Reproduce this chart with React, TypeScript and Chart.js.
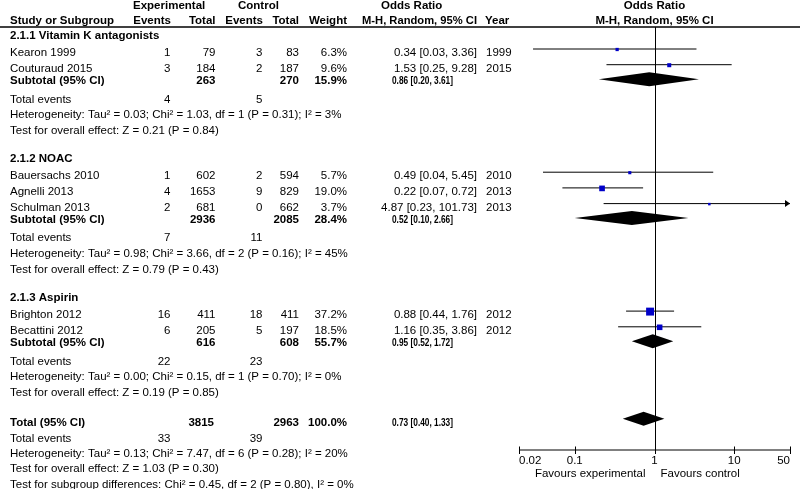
import React, { useEffect, useRef } from "react";
import { Chart, registerables } from "chart.js";
Chart.register(...registerables);

// ---------- data ----------
const studies = ["Kearon 1999", "Couturaud 2015", "Bauersachs 2010", "Agnelli 2013", "Schulman 2013", "Brighton 2012", "Becattini 2012"];
const studyGroup = [0, 0, 1, 1, 1, 2, 2];
const expEvents = [1, 3, 1, 4, 2, 16, 6];
const expTotal = [79, 184, 602, 1653, 681, 411, 205];
const ctrlEvents = [3, 2, 2, 9, 0, 18, 5];
const ctrlTotal = [83, 187, 594, 829, 662, 411, 197];
const weights = [6.3, 9.6, 5.7, 19.0, 3.7, 37.2, 18.5];
const oddsRatio = [0.34, 1.53, 0.49, 0.22, 4.87, 0.88, 1.16];
const ciLower = [0.03, 0.25, 0.04, 0.07, 0.23, 0.44, 0.35];
const ciUpper = [3.36, 9.28, 5.45, 0.72, 101.73, 1.76, 3.86];
const years = [1999, 2015, 2010, 2013, 2013, 2012, 2012];

const groupNames = ["2.1.1 Vitamin K antagonists", "2.1.2 NOAC", "2.1.3 Aspirin"];
const subExpTotal = [263, 2936, 616];
const subCtrlTotal = [270, 2085, 608];
const subWeight = [15.9, 28.4, 55.7];
const subOR = [0.86, 0.52, 0.95];
const subLower = [0.2, 0.1, 0.52];
const subUpper = [3.61, 2.66, 1.72];
const subExpEvents = [4, 7, 22];
const subCtrlEvents = [5, 11, 23];
const subHet = [
  "Heterogeneity: Tau² = 0.03; Chi² = 1.03, df = 1 (P = 0.31); I² = 3%",
  "Heterogeneity: Tau² = 0.98; Chi² = 3.66, df = 2 (P = 0.16); I² = 45%",
  "Heterogeneity: Tau² = 0.00; Chi² = 0.15, df = 1 (P = 0.70); I² = 0%",
];
const subTest = [
  "Test for overall effect: Z = 0.21 (P = 0.84)",
  "Test for overall effect: Z = 0.79 (P = 0.43)",
  "Test for overall effect: Z = 0.19 (P = 0.85)",
];

const totalExpTotal = 3815;
const totalCtrlTotal = 2963;
const totalWeight = 100.0;
const totalOR = 0.73;
const totalLower = 0.4;
const totalUpper = 1.33;
const totalExpEvents = 33;
const totalCtrlEvents = 39;
const totalHet = "Heterogeneity: Tau² = 0.13; Chi² = 7.47, df = 6 (P = 0.28); I² = 20%";
const totalTest = "Test for overall effect: Z = 1.03 (P = 0.30)";
const subgroupTest = "Test for subgroup differences: Chi² = 0.45, df = 2 (P = 0.80), I² = 0%";

const axisTicks = [0.02, 0.1, 1, 10, 50];
const axisTickLabels = ["0.02", "0.1", "1", "10", "50"];
const axisMin = 0.02;
const axisMax = 50;
const favoursLeft = "Favours experimental";
const favoursRight = "Favours control";

// ---------- layout (row baselines) ----------
type Row = { kind: string; y: number; i?: number; g?: number; text?: string };
function buildRows(): Row[] {
  const rows: Row[] = [];
  let y = 39;
  for (let g = 0; g < groupNames.length; g++) {
    if (g > 0) y += 28.5;
    rows.push({ kind: "group", y, g });
    let first = true;
    studies.forEach((_, i) => {
      if (studyGroup[i] !== g) return;
      y += first ? 17 : 15.7;
      first = false;
      rows.push({ kind: "study", y, i });
    });
    y += 12.5;
    rows.push({ kind: "sub", y, g });
    y += 18.3;
    rows.push({ kind: "subEvents", y, g });
    y += 15.6;
    rows.push({ kind: "text", y, text: subHet[g] });
    y += 15.6;
    rows.push({ kind: "text", y, text: subTest[g] });
  }
  y += 30.5;
  rows.push({ kind: "total", y });
  y += 15.6;
  rows.push({ kind: "totalEvents", y });
  y += 15.2;
  rows.push({ kind: "text", y, text: totalHet });
  y += 15.2;
  rows.push({ kind: "text", y, text: totalTest });
  y += 15.2;
  rows.push({ kind: "text", y, text: subgroupTest });
  return rows;
}

const FONT = "'Liberation Sans', Arial, Helvetica, sans-serif";
const REG = `11.5px ${FONT}`;
const BOLD = `bold 11.5px ${FONT}`;
const COL = { name: 10, expEv: 170.5, expTot: 215.5, ctrlEv: 262.5, ctrlTot: 299, weight: 347, orRight: 477, orLeft: 392, year: 486 };
const fmtOR = (o: number, l: number, h: number) => `${o.toFixed(2)} [${l.toFixed(2)}, ${h.toFixed(2)}]`;

export default function App() {
  const ref = useRef<HTMLCanvasElement | null>(null);
  useEffect(() => {
    document.body.style.margin = "0";
    const rows = buildRows();
    const studyRow = (i: number) => rows.find((r) => r.kind === "study" && r.i === i)!.y;
    const LINE_OFF = -7;

    const ciDatasets = studies.map((s, i) => ({
      type: "line" as const,
      label: s,
      data: [
        { x: ciLower[i], y: studyRow(i) + LINE_OFF },
        { x: Math.min(ciUpper[i], axisMax), y: studyRow(i) + LINE_OFF },
      ],
      borderColor: "#000",
      borderWidth: 1,
      pointRadius: 0,
      order: 2,
    }));
    const squares = {
      type: "scatter" as const,
      label: "OR",
      data: studies.map((_, i) => ({ x: oddsRatio[i], y: studyRow(i) + LINE_OFF + 0.5 })),
      pointStyle: "rect",
      pointRadius: weights.map((w) => (Math.sqrt(w) * 1.3) / Math.SQRT2),
      backgroundColor: "#0000c8",
      borderWidth: 0,
      pointBorderWidth: 0,
      order: 0,
    };

    const drawPlugin = {
      id: "forest",
      beforeDatasetsDraw(chart: any) {
        const ctx = chart.ctx;
        const xs = chart.scales.x;
        const ys = chart.scales.y;
        ctx.save();
        ctx.strokeStyle = "#000";
        ctx.lineWidth = 1.5;
        ctx.beginPath();
        ctx.moveTo(0, ys.getPixelForValue(27));
        ctx.lineTo(800, ys.getPixelForValue(27));
        ctx.stroke();
        const x1 = Math.round(xs.getPixelForValue(1)) + 0.5;
        ctx.lineWidth = 1;
        ctx.beginPath();
        ctx.moveTo(x1, ys.getPixelForValue(27));
        ctx.lineTo(x1, ys.getPixelForValue(450));
        ctx.stroke();
        ctx.restore();
      },
      afterDatasetsDraw(chart: any) {
        const ctx = chart.ctx;
        const xs = chart.scales.x;
        const ys = chart.scales.y;
        ctx.save();
        const diamond = (o: number, l: number, h: number, yc: number) => {
          const y = ys.getPixelForValue(yc);
          ctx.fillStyle = "#000";
          ctx.beginPath();
          ctx.moveTo(xs.getPixelForValue(l), y);
          ctx.lineTo(xs.getPixelForValue(o), y - 7);
          ctx.lineTo(xs.getPixelForValue(h), y);
          ctx.lineTo(xs.getPixelForValue(o), y + 7);
          ctx.closePath();
          ctx.fill();
        };
        rows.forEach((r) => {
          if (r.kind === "sub") diamond(subOR[r.g!], subLower[r.g!], subUpper[r.g!], r.y - 5);
          if (r.kind === "total") diamond(totalOR, totalLower, totalUpper, r.y - 7.5);
        });
        studies.forEach((_, i) => {
          if (ciUpper[i] > axisMax) {
            const xe = xs.getPixelForValue(axisMax);
            const y = ys.getPixelForValue(studyRow(i) + LINE_OFF);
            ctx.fillStyle = "#000";
            ctx.beginPath();
            ctx.moveTo(xe, y);
            ctx.lineTo(xe - 5, y - 3.5);
            ctx.lineTo(xe - 5, y + 3.5);
            ctx.closePath();
            ctx.fill();
          }
        });
        const ay = ys.getPixelForValue(450);
        ctx.strokeStyle = "#000";
        ctx.lineWidth = 1;
        ctx.beginPath();
        ctx.moveTo(xs.getPixelForValue(axisMin), ay);
        ctx.lineTo(xs.getPixelForValue(axisMax), ay);
        axisTicks.forEach((t) => {
          const tx = Math.round(xs.getPixelForValue(t)) + 0.5;
          ctx.moveTo(tx, ay - 3.5);
          ctx.lineTo(tx, ay + 4);
        });
        ctx.stroke();
        ctx.fillStyle = "#000";
        ctx.font = REG;
        ctx.textBaseline = "alphabetic";
        axisTicks.forEach((t, k) => {
          const tx = xs.getPixelForValue(t);
          ctx.textAlign = k === 0 ? "left" : k === axisTicks.length - 1 ? "right" : "center";
          ctx.fillText(axisTickLabels[k], tx, ys.getPixelForValue(463.5));
        });
        const xc = xs.getPixelForValue(1);
        ctx.textAlign = "right";
        ctx.fillText(favoursLeft, xc - 9, ys.getPixelForValue(476.5));
        ctx.textAlign = "left";
        ctx.fillText(favoursRight, xc + 6, ys.getPixelForValue(476.5));

        const t = (s: string, x: number, y: number, align: CanvasTextAlign = "left", b = false, maxW?: number) => {
          ctx.font = b ? BOLD : REG;
          ctx.textAlign = align;
          const py = ys.getPixelForValue(y);
          if (maxW) ctx.fillText(s, x, py, maxW);
          else ctx.fillText(s, x, py);
        };
        t("Experimental", 133, 9, "left", true);
        t("Control", 238, 9, "left", true);
        t("Odds Ratio", 381, 9, "left", true);
        t("Odds Ratio", xc, 9, "center", true);
        t("Study or Subgroup", COL.name, 24, "left", true);
        t("Events", COL.expEv + 0.5, 24, "right", true);
        t("Total", COL.expTot, 24, "right", true);
        t("Events", COL.ctrlEv + 0.5, 24, "right", true);
        t("Total", COL.ctrlTot, 24, "right", true);
        t("Weight", COL.weight, 24, "right", true);
        t("M-H, Random, 95% CI", COL.orRight, 24, "right", true, 115);
        t("Year", 485, 24, "left", true);
        t("M-H, Random, 95% CI", xc, 24, "center", true);

        rows.forEach((r) => {
          if (r.kind === "group") t(groupNames[r.g!], COL.name, r.y, "left", true);
          else if (r.kind === "study") {
            const i = r.i!;
            t(studies[i], COL.name, r.y);
            t(String(expEvents[i]), COL.expEv, r.y, "right");
            t(String(expTotal[i]), COL.expTot, r.y, "right");
            t(String(ctrlEvents[i]), COL.ctrlEv, r.y, "right");
            t(String(ctrlTotal[i]), COL.ctrlTot, r.y, "right");
            t(`${weights[i].toFixed(1)}%`, COL.weight, r.y, "right");
            t(fmtOR(oddsRatio[i], ciLower[i], ciUpper[i]), COL.orRight, r.y, "right");
            t(String(years[i]), COL.year, r.y);
          } else if (r.kind === "sub") {
            const g = r.g!;
            t("Subtotal (95% CI)", COL.name, r.y, "left", true);
            t(String(subExpTotal[g]), COL.expTot, r.y, "right", true);
            t(String(subCtrlTotal[g]), COL.ctrlTot, r.y, "right", true);
            t(`${subWeight[g].toFixed(1)}%`, COL.weight, r.y, "right", true);
            t(fmtOR(subOR[g], subLower[g], subUpper[g]), COL.orLeft, r.y, "left", true, 61);
          } else if (r.kind === "subEvents") {
            const g = r.g!;
            t("Total events", COL.name, r.y);
            t(String(subExpEvents[g]), COL.expEv, r.y, "right");
            t(String(subCtrlEvents[g]), COL.ctrlEv, r.y, "right");
          } else if (r.kind === "total") {
            t("Total (95% CI)", COL.name, r.y, "left", true);
            t(String(totalExpTotal), COL.expTot - 1.5, r.y, "right", true);
            t(String(totalCtrlTotal), COL.ctrlTot, r.y, "right", true);
            t(`${totalWeight.toFixed(1)}%`, COL.weight, r.y, "right", true);
            t(fmtOR(totalOR, totalLower, totalUpper), COL.orLeft, r.y, "left", true, 61);
          } else if (r.kind === "totalEvents") {
            t("Total events", COL.name, r.y);
            t(String(totalExpEvents), COL.expEv, r.y, "right");
            t(String(totalCtrlEvents), COL.ctrlEv, r.y, "right");
          } else if (r.kind === "text") {
            t(r.text!, COL.name, r.y);
          }
        });
        ctx.restore();
      },
    };

    const chart = new Chart(ref.current!, {
      type: "scatter",
      data: { datasets: [...ciDatasets, squares] as any },
      options: {
        animation: false,
        responsive: true,
        maintainAspectRatio: false,
        devicePixelRatio: 1,
        layout: { autoPadding: false, padding: { left: 519, right: 10, top: 0, bottom: 0 } },
        scales: {
          x: { type: "logarithmic", min: axisMin, max: axisMax, display: false },
          y: { type: "linear", min: 0, max: 489, reverse: true, display: false },
        },
        plugins: { legend: { display: false }, tooltip: { enabled: false } },
      } as any,
      plugins: [drawPlugin],
    });
    return () => chart.destroy();
  }, []);
  return (
    <div style={{ width: 800, height: 489, position: "relative", background: "#fff" }}>
      <canvas ref={ref} style={{ display: "block" }} />
    </div>
  );
}
